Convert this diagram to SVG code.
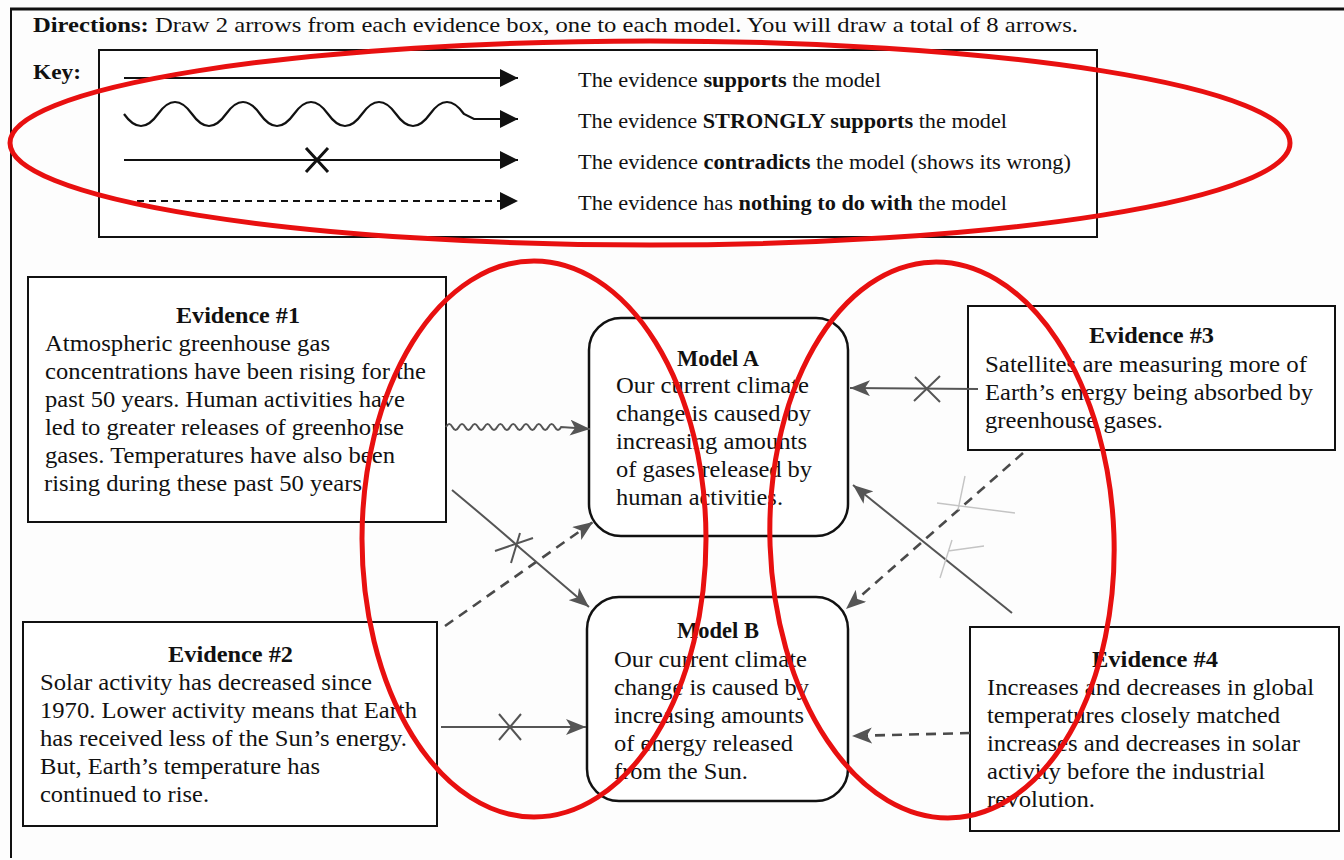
<svg xmlns="http://www.w3.org/2000/svg" width="1344" height="860" viewBox="0 0 1344 860">
<style>
text{font-family:"Liberation Serif","Times New Roman",serif;fill:#111}
.b{font-weight:bold}
.t{font-size:21.5px}
.n{font-size:22.5px}
.box{fill:#fff;stroke:#111;stroke-width:2}
.mbox{fill:#fff;stroke:#111;stroke-width:2.5}
.key{fill:none;stroke:#111;stroke-width:2.2}
.pen{fill:none;stroke:#555;stroke-width:2}
.dash{fill:none;stroke:#4a4a4a;stroke-width:2.6;stroke-dasharray:10,7}
.faint{fill:none;stroke:#c4c4c4;stroke-width:1.4}
.red{fill:none;stroke:#e81010;stroke-width:5}
</style>
<defs>
<marker id="kh" viewBox="0 0 18 18" refX="18" refY="9" markerWidth="18" markerHeight="18" markerUnits="userSpaceOnUse" orient="auto">
<path d="M0,0 L18,9 L0,18 z" fill="#111"/>
</marker>
<marker id="ph" viewBox="0 0 20 16" refX="20" refY="8" markerWidth="20" markerHeight="16" markerUnits="userSpaceOnUse" orient="auto">
<path d="M0,0 L20,8 L0,16 L5,8 z" fill="#555"/>
</marker>
</defs>
<rect width="1344" height="860" fill="#fdfdfd"/>
<g id="page">
<path d="M10,9 L1344,9" stroke="#111" stroke-width="3"/>
<path d="M11,9 L11,858" stroke="#111" stroke-width="2"/>
</g>
<g id="directions">
<text x="33" y="32" class="t" textLength="1045" lengthAdjust="spacingAndGlyphs"><tspan class="b">Directions:</tspan> Draw 2 arrows from each evidence box, one to each model. You will draw a total of 8 arrows.</text>
</g>
<g id="key">
<rect x="99" y="50" width="998" height="187" class="box"/>
<text x="33" y="79" class="t b" textLength="48" lengthAdjust="spacingAndGlyphs">Key:</text>
<path d="M124,78 L518,78" class="key" marker-end="url(#kh)"/>
<path d="M124,114 q17,24 34,0 t34,0 t34,0 t34,0 t34,0 t34,0 t34,0 t34,0 t34,0 t34,0 l10,5 L518,119" class="key" marker-end="url(#kh)"/>
<path d="M124,160 L518,160" class="key" marker-end="url(#kh)"/>
<path d="M306,148 L328,172 M328,148 L306,172" stroke="#111" stroke-width="3"/>
<path d="M137,201 L518,201" class="key" stroke-dasharray="7,5" marker-end="url(#kh)"/>
<text x="578" y="87" class="t" textLength="303" lengthAdjust="spacingAndGlyphs">The evidence <tspan class="b">supports</tspan> the model</text>
<text x="578" y="128" class="t" textLength="429" lengthAdjust="spacingAndGlyphs">The evidence <tspan class="b">STRONGLY supports</tspan> the model</text>
<text x="578" y="169" class="t" textLength="493" lengthAdjust="spacingAndGlyphs">The evidence <tspan class="b">contradicts</tspan> the model (shows its wrong)</text>
<text x="578" y="210" class="t" textLength="429" lengthAdjust="spacingAndGlyphs">The evidence has <tspan class="b">nothing to do with</tspan> the model</text>
</g>
<g id="evidence1">
<rect x="28" y="277" width="418" height="245" class="box"/>
<text x="176" y="323" class="n b" textLength="124" lengthAdjust="spacingAndGlyphs">Evidence #1</text>
<text x="45" y="351" class="n" textLength="285" lengthAdjust="spacingAndGlyphs">Atmospheric greenhouse gas</text>
<text x="45" y="379" class="n" textLength="381" lengthAdjust="spacingAndGlyphs">concentrations have been rising for the</text>
<text x="45" y="407" class="n" textLength="360" lengthAdjust="spacingAndGlyphs">past 50 years. Human activities have</text>
<text x="45" y="435" class="n" textLength="359" lengthAdjust="spacingAndGlyphs">led to greater releases of greenhouse</text>
<text x="45" y="463" class="n" textLength="350" lengthAdjust="spacingAndGlyphs">gases. Temperatures have also been</text>
<text x="44" y="491" class="n" textLength="318" lengthAdjust="spacingAndGlyphs">rising during these past 50 years</text>
</g>
<g id="evidence2">
<rect x="23" y="622" width="414" height="204" class="box"/>
<text x="168" y="662" class="n b" textLength="125" lengthAdjust="spacingAndGlyphs">Evidence #2</text>
<text x="40" y="690" class="n" textLength="332" lengthAdjust="spacingAndGlyphs">Solar activity has decreased since</text>
<text x="40" y="718" class="n" textLength="377" lengthAdjust="spacingAndGlyphs">1970. Lower activity means that Earth</text>
<text x="40" y="746" class="n" textLength="367" lengthAdjust="spacingAndGlyphs">has received less of the Sun’s energy.</text>
<text x="40" y="774" class="n" textLength="280" lengthAdjust="spacingAndGlyphs">But, Earth’s temperature has</text>
<text x="40" y="802" class="n" textLength="169" lengthAdjust="spacingAndGlyphs">continued to rise.</text>
</g>
<g id="modelA">
<rect x="589" y="318" width="259" height="218" rx="32" class="mbox"/>
<text x="718" y="366" class="n b" text-anchor="middle">Model A</text>
<text x="616" y="393" class="n" textLength="193" lengthAdjust="spacingAndGlyphs">Our current climate</text>
<text x="616" y="421" class="n" textLength="195" lengthAdjust="spacingAndGlyphs">change is caused by</text>
<text x="616" y="449" class="n" textLength="191" lengthAdjust="spacingAndGlyphs">increasing amounts</text>
<text x="616" y="477" class="n" textLength="196" lengthAdjust="spacingAndGlyphs">of gases released by</text>
<text x="616" y="505" class="n" textLength="167" lengthAdjust="spacingAndGlyphs">human activities.</text>
</g>
<g id="modelB">
<rect x="587" y="597" width="261" height="204" rx="32" class="mbox"/>
<text x="718" y="638" class="n b" text-anchor="middle">Model B</text>
<text x="614" y="667" class="n" textLength="193" lengthAdjust="spacingAndGlyphs">Our current climate</text>
<text x="614" y="695" class="n" textLength="195" lengthAdjust="spacingAndGlyphs">change is caused by</text>
<text x="614" y="723" class="n" textLength="190" lengthAdjust="spacingAndGlyphs">increasing amounts</text>
<text x="614" y="751" class="n" textLength="179" lengthAdjust="spacingAndGlyphs">of energy released</text>
<text x="614" y="779" class="n" textLength="134" lengthAdjust="spacingAndGlyphs">from the Sun.</text>
</g>
<g id="evidence3">
<rect x="968" y="306" width="367" height="144" class="box"/>
<text x="1089" y="343" class="n b" textLength="125" lengthAdjust="spacingAndGlyphs">Evidence #3</text>
<text x="985" y="372" class="n" textLength="322" lengthAdjust="spacingAndGlyphs">Satellites are measuring more of</text>
<text x="985" y="400" class="n" textLength="328" lengthAdjust="spacingAndGlyphs">Earth’s energy being absorbed by</text>
<text x="985" y="428" class="n" textLength="178" lengthAdjust="spacingAndGlyphs">greenhouse gases.</text>
</g>
<g id="evidence4">
<rect x="970" y="627" width="369" height="204" class="box"/>
<text x="1092" y="667" class="n b" textLength="126" lengthAdjust="spacingAndGlyphs">Evidence #4</text>
<text x="987" y="695" class="n" textLength="327" lengthAdjust="spacingAndGlyphs">Increases and decreases in global</text>
<text x="987" y="723" class="n" textLength="293" lengthAdjust="spacingAndGlyphs">temperatures closely matched</text>
<text x="987" y="751" class="n" textLength="313" lengthAdjust="spacingAndGlyphs">increases and decreases in solar</text>
<text x="987" y="779" class="n" textLength="278" lengthAdjust="spacingAndGlyphs">activity before the industrial</text>
<text x="987" y="807" class="n" textLength="108" lengthAdjust="spacingAndGlyphs">revolution.</text>
</g>
<g id="connectors">
<path d="M446,427 q3.2,-6 6.4,0 t6.4,0 t6.4,0 t6.4,0 t6.4,0 t6.4,0 t6.4,0 t6.4,0 t6.4,0 t6.4,0 t6.4,0 t6.4,0 t6.4,0 t6.4,0 t6.4,0 t6.4,0 t6.4,0 t6.4,0 L590,429" class="pen" stroke-width="2.6" marker-end="url(#ph)"/>
<path d="M445,626 L593,522" class="dash" stroke-width="2" marker-end="url(#ph)"/>
<path d="M452,490 C476,510 500,530 520,548 L589,607" class="pen" marker-end="url(#ph)"/>
<path d="M495,551 L533,538 M520,533 L511,563" class="pen" stroke-width="2.4"/>
<path d="M441,727 L586,727" class="pen" marker-end="url(#ph)"/>
<path d="M499,714 L521,740 M521,714 L499,740" class="pen" stroke-width="2.2"/>
<path d="M978,389 L850,388" class="pen" stroke-width="3" marker-end="url(#ph)"/>
<path d="M915,377 L940,402 M940,376 L914,401" class="pen" stroke-width="2"/>
<path d="M1023,453 L846,609" class="dash" stroke-width="3.2" stroke-dasharray="12,7" marker-end="url(#ph)"/>
<path d="M1012,613 L853,485" class="pen" stroke-width="2.6" marker-end="url(#ph)"/>
<path d="M965,476 L958,510 M937,503 L1015,513 M952,540 L940,578 M948,551 L984,546" class="faint"/>
<path d="M970,733 L852,736" class="dash" stroke-width="2.4" stroke-dasharray="9,6" marker-end="url(#ph)"/>
</g>
<g id="annotations">
<ellipse cx="650" cy="143" rx="640" ry="102" class="red"/>
<ellipse cx="534" cy="539" rx="172" ry="278" class="red"/>
<ellipse cx="942" cy="540" rx="172" ry="278" transform="rotate(-2 942 540)" class="red"/>
</g>
</svg>
